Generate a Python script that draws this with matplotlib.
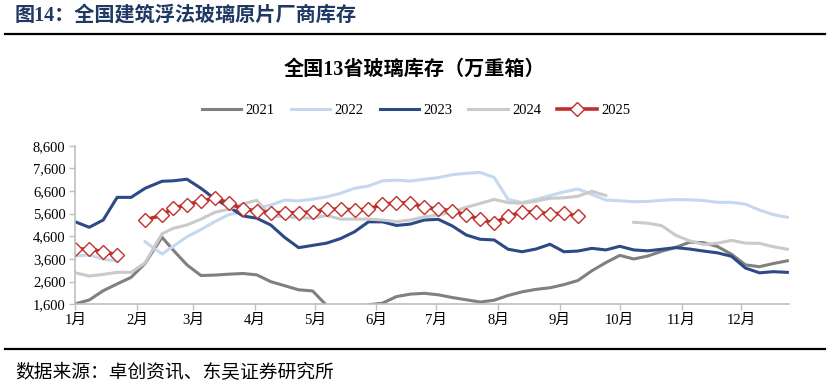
import numpy as np
import matplotlib.pyplot as plt
from matplotlib.lines import Line2D
from matplotlib.ticker import FuncFormatter

plt.rcParams['font.family'] = ['Liberation Serif', 'Noto Sans CJK SC']

nan = np.nan

# weekly sample positions (day of year); week 7 falls a little late around Spring Festival
days = [0, 7, 14, 21, 28, 35, 43.5] + list(range(49, 358, 7))

inv_2021 = [1620, 1790, 2200, 2500, 2790, 3410, 4560, 4000, 3340, 2870,
            2890, 2930, 2960, 2900, 2600, 2420, 2240, 2190, 1550, 1300,
            1300, 1580, 1650, 1940, 2050, 2085, 2020, 1900, 1800, 1700,
            1780, 1990, 2150, 2260, 2330, 2470, 2650, 3080, 3440, 3760,
            3600, 3730, 3940, 4110, 4340, 4320, 4150, 3810, 3340, 3260,
            3400, 3520]
inv_2022 = [3730, 3780, 3590, 3520, nan, 4360, 3820, 4150, 4580, 4900,
            5250, 5560, 5680, 5840, 5980, 6200, 6160, 6240, 6340, 6500,
            6720, 6820, 7050, 7080, 7040, 7120, 7190, 7320, 7380, 7420,
            7200, 6230, 6090, 6230, 6400, 6560, 6690, 6450, 6200, 6170,
            6130, 6140, 6190, 6220, 6210, 6180, 6100, 6100, 6020, 5760,
            5560, 5440]
inv_2023 = [5240, 5000, 5320, 6320, 6320, 6720, 7030, 7050, 7120, 6720,
            6250, 5900, 5500, 5400, 5100, 4550, 4100, 4200, 4300, 4500,
            4800, 5240, 5240, 5080, 5140, 5320, 5350, 5060, 4660, 4470,
            4440, 4030, 3920, 4040, 4250, 3920, 3950, 4070, 4000, 4160,
            4000, 3960, 4030, 4100, 4040, 3950, 3870, 3720, 3200, 2990,
            3040, 3010]
inv_2024 = [2990, 2850, 2920, 3010, 3010, 3430, 4710, 4950, 5100, 5360,
            5660, 5800, 6030, 6190, 5500, 5460, 5430, 5400, 5520, 5360,
            5360, 5360, 5320, 5250, 5320, 5460, 5540, 5680, 5880, 6050,
            6230, 6090, 6060, 6150, 6280, 6300, 6370, 6590, 6400, nan,
            5220, 5180, 5070, 4650, 4400, 4240, 4300, 4420, 4300, 4290,
            4140, 4030]
inv_2025 = [4040, 4040, 3920, 3780, nan, 5320, 5540, 5840, 6000, 6160,
            6280, 6080, 5800, 5720, 5650, 5640, 5640, 5680, 5800, 5800,
            5770, 5790, 6020, 6070, 6080, 5880, 5800, 5730, 5540, 5350,
            5180, 5500, 5660, 5690, 5580, 5620, 5500]

month_days = [0, 31, 59, 90, 120, 151, 181, 212, 243, 273, 304, 334]
month_labels = ['1月', '2月', '3月', '4月', '5月', '6月', '7月', '8月',
                '9月', '10月', '11月', '12月']

fig = plt.figure(figsize=(8.3, 3.88), dpi=100)
ax = fig.add_axes([0.0907, 0.2157, 0.8603, 0.4088])

ax.plot(days, inv_2021, color='#808080', lw=2.2, label='2021')
ax.plot(days, inv_2022, color='#C5D8F0', lw=2.2, label='2022')
ax.plot(days, inv_2023, color='#2B4A86', lw=2.2, label='2023')
ax.plot(days, inv_2024, color='#CACACA', lw=2.2, label='2024')
ax.plot(days[:len(inv_2025)], inv_2025, color='#C0302A', lw=2.6,
        marker='D', markersize=6.8, markerfacecolor='white',
        markeredgecolor='#C0302A', markeredgewidth=1.0, label='2025')

ax.set_xlim(0, 358)
ax.set_ylim(1600, 8600)
ax.set_yticks(range(1600, 8601, 1000))
ax.yaxis.set_major_formatter(FuncFormatter(lambda v, p: f'{int(v):,}'))
ax.set_xticks(month_days)
ax.set_xticklabels(month_labels)

for s in ['top', 'right']:
    ax.spines[s].set_visible(False)
for s in ['left', 'bottom']:
    ax.spines[s].set_color('#BFBFBF')
    ax.spines[s].set_linewidth(1.2)
ax.tick_params(axis='both', colors='#BFBFBF', length=4, width=1.0,
               labelcolor='black', labelsize=10.5)
ax.tick_params(axis='y', pad=3)
ax.tick_params(axis='x', pad=3)

fig.legend(loc='center', bbox_to_anchor=(416 / 830, 1 - 110 / 388), ncol=5,
           frameon=False, fontsize=10.5, handlelength=2.7, handletextpad=0.3,
           columnspacing=1.1)

fig.text(15 / 830, 1 - 16 / 388, '图14：全国建筑浮法玻璃原片厂商库存',
         fontsize=14.5, fontweight='bold', color='#1F3864', va='center')
fig.text(414 / 830, 1 - 70 / 388, '全国13省玻璃库存（万重箱）',
         fontsize=14.5, fontweight='bold', color='black', ha='center', va='center')
fig.text(15 / 830, 1 - 373 / 388, '数据来源：卓创资讯、东吴证券研究所',
         fontsize=13.5, color='black', va='center')

fig.add_artist(Line2D([5 / 830, 825 / 830], [1 - 34 / 388] * 2, color='black', lw=1.6))
fig.add_artist(Line2D([5 / 830, 825 / 830], [1 - 349 / 388] * 2, color='black', lw=1.6))

fig.savefig('out.png', dpi=100)
